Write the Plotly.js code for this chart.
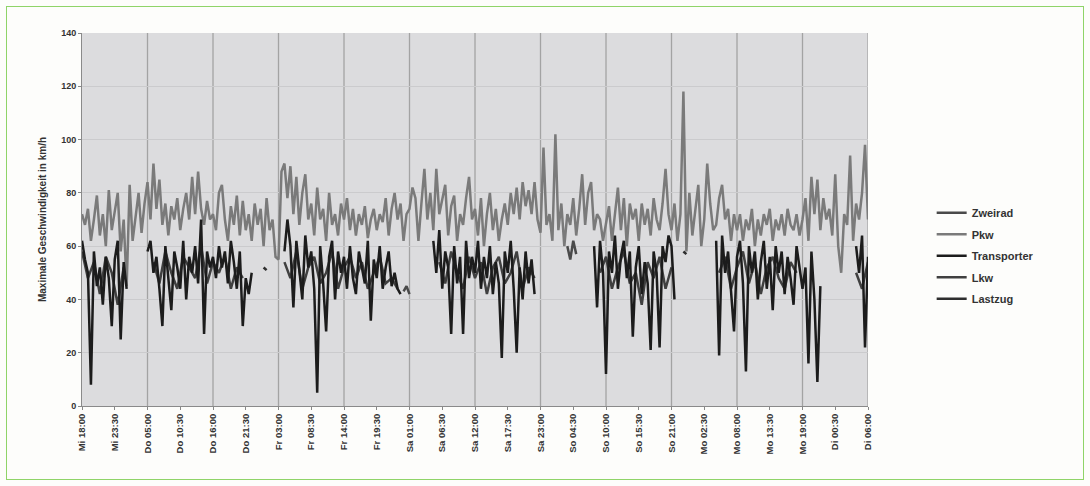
<!DOCTYPE html>
<html>
<head>
<meta charset="utf-8">
<script src="https://cdn.plot.ly/plotly-3.0.1.min.js"></script>
<style>
  html, body { margin: 0; padding: 0; background: #fdfdfb; }
  #wrap { position: relative; width: 1090px; height: 486px; }
  #chart { width: 1090px; height: 486px; }
  #frame { position: absolute; left: 6px; top: 6px; width: 1076px; height: 472px;
           border: 1.5px solid #8fd468; pointer-events: none; }
</style>
</head>
<body>
<div id="wrap"><div id="chart"></div><div id="frame"></div></div>
<script>
// Tick labels (every 5.5 hours from Mi 18:00)
const tickLabels = ["Mi 18:00","Mi 23:30","Do 05:00","Do 10:30","Do 16:00","Do 21:30","Fr 03:00","Fr 08:30","Fr 14:00","Fr 19:30","Sa 01:00","Sa 06:30","Sa 12:00","Sa 17:30","Sa 23:00","So 04:30","So 10:00","So 15:30","So 21:00","Mo 02:30","Mo 08:00","Mo 13:30","Mo 19:00","Di 00:30","Di 06:00"];
const tickStepHours = 5.5;
const gridStepHours = 11;

// Pkw: half-hourly maxima (km/h)
const pkwValues = [
 72,68,74,62,70,79,64,72,60,81,66,74,80,58,70,45,83,62,72,80,65,76,
 84,70,91,74,85,68,76,64,75,70,78,66,74,80,70,86,72,88,74,68,77,70,
 72,66,80,83,70,62,75,68,79,64,77,66,72,62,76,68,74,60,78,66,70,56,
 55,88,91,78,90,72,86,68,80,87,70,76,64,82,70,74,62,80,68,72,64,76,
 70,78,66,74,64,72,68,75,63,70,74,66,72,69,78,64,74,80,70,76,62,72,
 74,82,78,62,76,89,70,80,66,89,72,78,83,64,75,79,62,72,68,78,86,70,
 74,64,78,60,72,80,66,74,62,70,76,68,80,72,82,70,84,75,81,72,84,70,
 65,97,68,72,62,102,66,76,60,72,68,78,64,74,87,68,80,84,66,72,70,62,
 68,75,62,72,82,66,78,60,76,70,74,62,76,68,74,64,78,70,66,76,89,72,
 66,76,62,72,118,58,80,64,74,83,60,70,91,76,66,68,78,83,70,74,62,72,
 66,72,62,70,66,74,60,70,64,72,68,74,62,70,66,72,64,74,68,66,72,64,
 70,78,62,86,72,85,66,78,70,74,64,87,60,50,72,68,94,62,76,70,80,98,70
];

// Transporter: half-hourly maxima (km/h), null = no vehicle
const transporterValues = [
 62,55,50,8,58,45,52,38,56,48,30,55,62,25,54,44,null,null,null,null,null,null,
 58,62,50,56,44,30,60,48,36,58,52,44,62,40,56,50,60,46,70,27,58,52,
 56,48,60,52,58,46,62,54,44,58,30,48,42,50,null,null,null,null,null,null,null,null,
 null,null,58,70,60,37,62,50,40,64,52,58,44,5,60,46,28,56,62,40,58,50,
 56,44,60,48,42,58,52,46,62,32,55,48,60,44,52,58,45,50,44,42,null,null,
 null,null,null,null,null,null,null,null,62,50,66,44,58,52,27,60,46,56,27,62,48,56,
 50,62,44,56,48,60,42,54,46,18,58,50,62,44,20,52,40,58,46,55,42,null,
 null,null,null,null,null,null,null,null,null,null,null,null,null,null,null,null,null,null,60,37,62,50,
 12,58,50,64,44,56,62,48,58,26,52,60,42,54,46,21,58,50,22,60,54,64,
 60,40,null,null,null,null,null,null,null,null,null,null,null,null,null,62,19,64,50,58,44,28,
 56,62,46,13,60,50,58,40,54,62,44,56,36,60,50,58,42,56,48,38,60,52,
 44,52,16,58,40,9,45,null,null,null,null,null,null,null,null,null,null,null,60,50,64,22,56
];

// Lkw: hourly maxima (km/h)
const lkwValues = [
 58,48,54,42,56,50,38,52,null,null,null,null,
 54,46,58,50,44,56,52,48,60,46,54,50,56,44,52,48,
 null,null,null,null,null,null,
 54,48,58,44,52,56,46,50,58,44,52,56,48,54,44,50,56,46,48,44,
 null,null,null,null,null,null,
 54,46,58,50,44,56,48,54,42,52,56,46,50,58,44,52,48,
 null,null,null,null,null,null,null,null,null,null,
 50,56,44,52,58,46,50,38,54,48,56,44,52,
 null,null,null,null,null,null,null,
 50,56,44,52,58,46,54,42,52,56,48,44,54,50,
 null,null,null,null,null,null,null,null,null,
 50,44,54
];

// Zweirad and Lastzug: sparse readings
const zweiradHours  = [54, 54.5, 55, 55.5, 81.5, 82, 82.5, 83];
const zweiradValues = [43, 45, 42, null, 60, 55, 62, 57];
const lastzugHours  = [30.5, 31, 31.5, 101, 101.5];
const lastzugValues = [52, 51, null, 58, 57];

const halfHours = pkwValues.map((_, i) => i * 0.5);
const hours = lkwValues.map((_, i) => i);
const tickVals = tickLabels.map((_, i) => i * tickStepHours);
const totalHours = tickVals[tickVals.length - 1];

const traces = [
  {name: "Pkw", x: halfHours, y: pkwValues, type: "scatter", mode: "lines",
   line: {color: "#7a7a7a", width: 2.5}, legendrank: 2, legendgroup: "b"},
  {name: "Lkw", x: hours, y: lkwValues, type: "scatter", mode: "lines",
   line: {color: "#404040", width: 2.5}, legendrank: 4, legendgroup: "d"},
  {name: "Transporter", x: halfHours, y: transporterValues, type: "scatter", mode: "lines",
   line: {color: "#1c1c1c", width: 2.5}, legendrank: 3, legendgroup: "c"},
  {name: "Zweirad", x: zweiradHours, y: zweiradValues, type: "scatter", mode: "lines",
   line: {color: "#4a4a4a", width: 2.5}, legendrank: 1, legendgroup: "a"},
  {name: "Lastzug", x: lastzugHours, y: lastzugValues, type: "scatter", mode: "lines",
   line: {color: "#2e2e2e", width: 2.5}, legendrank: 5, legendgroup: "e"}
];

const shapes = [];
for (let g = gridStepHours; g <= totalHours; g += gridStepHours) {
  shapes.push({type: "line", xref: "x", yref: "paper", x0: g, x1: g, y0: 0, y1: 1,
               layer: "below", line: {color: "#a3a3a3", width: 1.3}});
}

const fontFam = "Liberation Sans, Arial, sans-serif";
const layout = {
  width: 1090, height: 486,
  margin: {l: 82, r: 222, t: 33, b: 80},
  paper_bgcolor: "#fdfdfb",
  plot_bgcolor: "#dcdcde",
  font: {family: fontFam, color: "#333", size: 10},
  showlegend: true,
  legend: {x: 1.081, xanchor: "left", y: 0.557, yanchor: "top",
           font: {family: fontFam, size: 11, weight: "bold", color: "#333"},
           bgcolor: "rgba(0,0,0,0)", traceorder: "grouped", tracegroupgap: 2.5},
  xaxis: {range: [0, totalHours], tickmode: "array", tickvals: tickVals, ticktext: tickLabels,
          tickangle: -90, tickfont: {family: fontFam, size: 9.5, weight: "bold", color: "#333"},
          ticks: "outside", ticklen: 3, tickcolor: "#888", showgrid: false, zeroline: false,
          showline: true, linecolor: "#8a8a8a", linewidth: 1},
  yaxis: {range: [0, 140], dtick: 20, tick0: 0,
          tickfont: {family: fontFam, size: 9, weight: "bold", color: "#333"},
          ticks: "outside", ticklen: 3, tickcolor: "#888", showgrid: true, gridcolor: "#cbcbcd",
          gridwidth: 1, zeroline: false, showline: true, linecolor: "#8a8a8a", linewidth: 1,
          title: {text: "Maximale Geschwindigkeit in km/h", standoff: 12,
                  font: {family: fontFam, size: 10, weight: "bold", color: "#333"}}},
  shapes: shapes
};

Plotly.newPlot("chart", traces, layout, {displayModeBar: false, staticPlot: true});
</script>
</body>
</html>
